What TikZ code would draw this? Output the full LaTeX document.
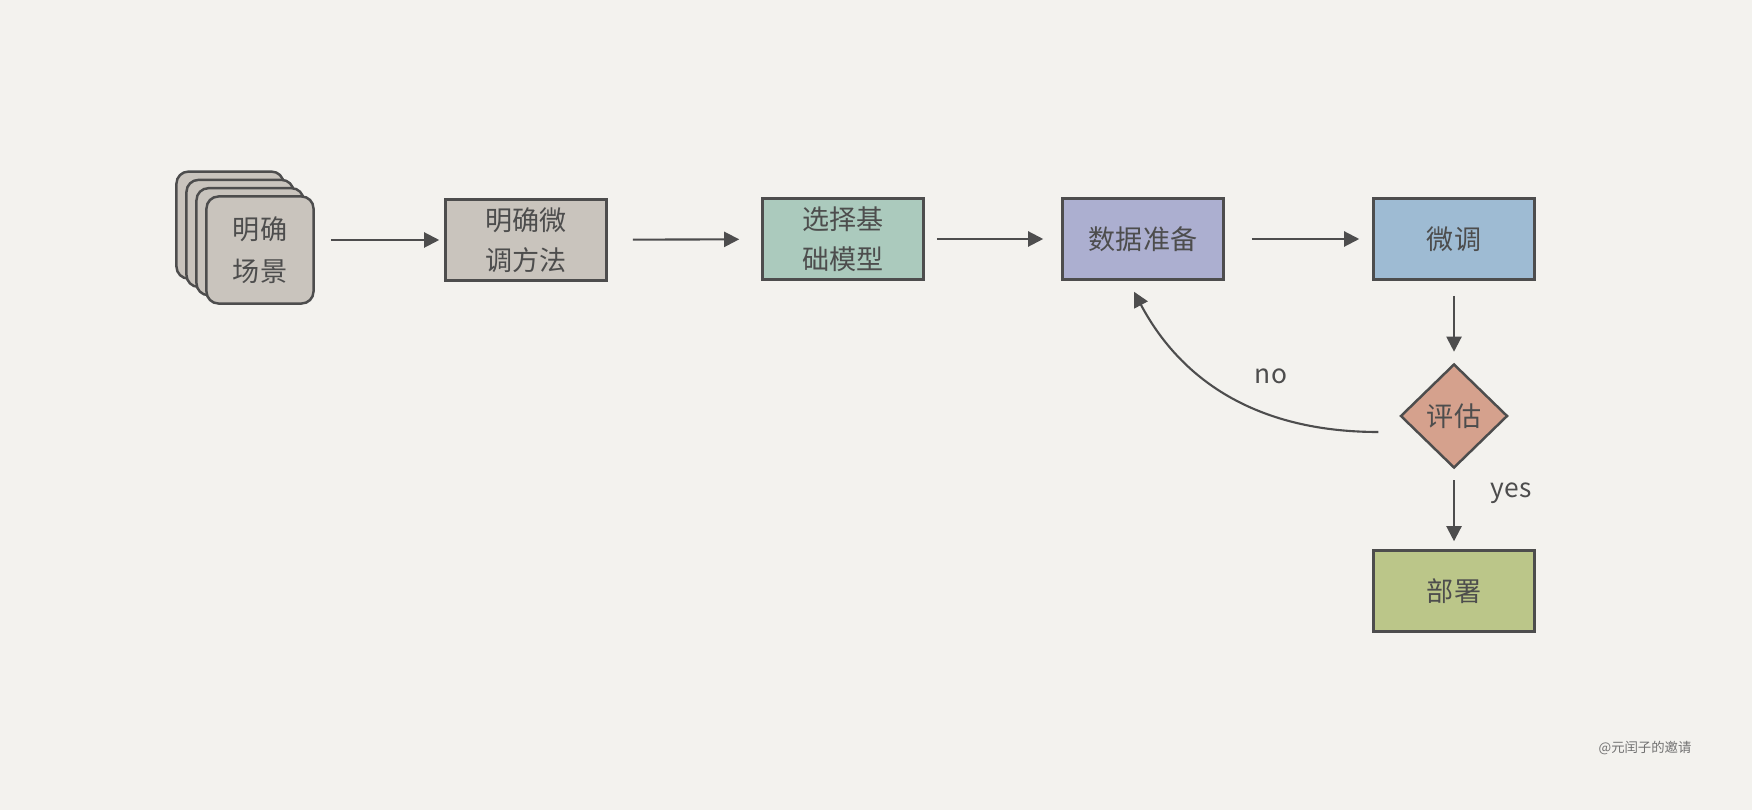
\documentclass[tikz,border=0pt]{standalone}
\usepackage{fontspec}
\setmainfont{Noto Sans CJK SC}
\usepackage{tikz}
\usetikzlibrary{arrows.meta,shapes.geometric}
\definecolor{paper}{HTML}{F3F2EE}
\definecolor{ink}{HTML}{4D4D4D}
\definecolor{stone}{HTML}{C9C4BD}
\definecolor{sage}{HTML}{ABCABD}
\definecolor{lavender}{HTML}{ACAFD0}
\definecolor{sky}{HTML}{9EBBD3}
\definecolor{salmon}{HTML}{D5A18D}
\definecolor{olive}{HTML}{BBC689}

\begin{document}
\begin{tikzpicture}[x=0.01cm,y=-0.01cm,
  box/.style={draw=ink,line width=0.7pt,inner sep=0pt,minimum width=1.61cm,minimum height=0.81cm,align=center,text=ink,font=\fontsize{7.7}{11.3}\selectfont},
  card/.style={box,fill=stone,rounded corners=0.12cm,minimum width=1.07cm,minimum height=1.07cm,font=\fontsize{7.7}{12}\selectfont},
  lbl/.style={text=ink,font=\fontsize{7.5}{9}\selectfont},
  flow/.style={draw=ink,line width=0.6pt,-{Triangle[length=0.15cm,width=0.15cm]}}]
\fill[paper](0,0)rectangle(1752,810);
\foreach\i in{3,2,1}{
    \node[card]at(260-10*\i,250-8.3*\i){};
}
\node[card](scene)at(260,250){明确\\场景};
\node[box,fill=stone](method)at(526,240){明确微\\调方法};
\node[box,fill=sage](model)at(843,239){选择基\\础模型};
\node[box,fill=lavender](data)at(1143,239){数据准备};
\node[box,fill=sky](tune)at(1454,239){微调};
\node[diamond,draw=ink,line width=0.7pt,fill=salmon,inner sep=0pt,minimum width=1.07cm,minimum height=1.04cm,text=ink,font=\fontsize{7.7}{9}\selectfont](eval)at(1454,416){评估};
\node[box,fill=olive](deploy)at(1454,591){部署};
\node[lbl](no)at(1271,376){no};
\node[lbl](yes)at(1511,493){yes};
\node[text=ink!80,font=\fontsize{3.8}{4}\selectfont](sign)at(1645,748){@元闰子的邀请};
\draw[flow,shorten <=0.16cm,shorten >=0.05cm](scene.east|-method)--(method);
\foreach\a/\b/\s/\e in{method/model/0.25cm/0.22cm,model/data/0.12cm/0.18cm,data/tune/0.27cm/0.13cm,tune/eval/0.15cm/0.11cm,eval/deploy/0.11cm/0.08cm}{
    \draw[flow,shorten <=\s,shorten >=\e](\a)--(\b);
}
\draw[flow]([shift={(-21,16)}]eval.west) to[out=180,in=-62] ([shift={(-9,11)}]data.south);
\end{tikzpicture}
\end{document}
